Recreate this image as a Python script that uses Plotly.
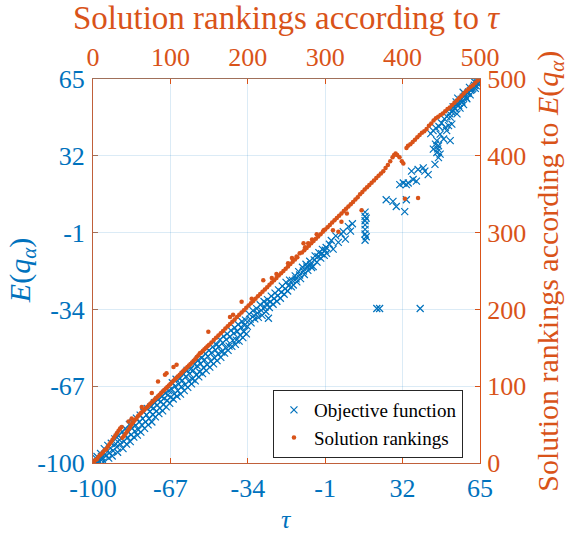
import plotly.graph_objects as go

BLUE = '#0072BD'
ORANGE = '#D95319'
FONT = 'Liberation Serif'

# objective function: tau vs E(q_alpha)
tau_vals = [
    -99.6, -99.0, -98.3, -97.5, -96.8, -96.0, -95.2, -94.5, -93.7, -93.0, -92.2, -91.4, -90.7, -89.9, -89.1,
    -88.4, -87.6, -86.8, -86.1, -85.3, -84.5, -83.8, -83.0, -82.2, -81.5, -80.7, -79.9, -79.2, -78.4, -77.6,
    -76.9, -76.1, -75.3, -74.6, -73.8, -73.0, -72.3, -71.5, -70.7, -70.0, -69.2, -68.4, -67.7, -66.9,
    -98.9, -97.9, -96.4, -95.6, -94.8, -93.3, -92.6, -91.8, -90.3, -89.5, -88.7, -87.2, -86.4, -85.7, -84.9,
    -84.1, -83.4, -82.6, -81.8, -81.1, -80.3, -79.6, -78.8, -78.0, -77.2, -76.5, -75.7, -74.9, -74.2, -73.4,
    -72.6, -71.9, -71.1, -70.3, -69.6, -68.8, -68.0, -67.3,
    -66.2, -65.4, -64.6, -63.8, -63.1, -62.3, -61.5, -60.7, -59.9, -59.2, -58.4, -57.6, -56.8, -56.0, -55.2,
    -54.5, -53.7, -52.9, -52.1, -51.3, -50.6, -49.8, -49.0, -48.2, -47.4, -46.7, -45.9, -45.1, -44.3, -43.5,
    -42.8, -42.0, -41.2, -40.4, -39.6, -38.9, -38.1, -37.3, -36.5, -35.7, -35.0, -34.2,
    -66.6, -65.8, -65.0, -64.2, -63.5, -62.7, -61.9, -61.1, -60.3, -59.6, -58.8, -58.0, -57.2, -56.4, -55.6,
    -54.9, -54.1, -53.3, -52.5, -51.7, -51.0, -50.2, -49.4, -48.6, -47.8, -47.1, -46.3, -45.5, -44.7, -43.9,
    -43.2, -42.4, -41.6, -40.8, -40.0, -39.3, -38.5, -37.7, -36.9, -36.1, -35.4, -34.6,
    -33.4, -32.6, -31.8, -31.0, -30.2, -29.5, -28.7, -27.9, -27.1, -26.3, -25.6, -25.2, -24.8, -24.0, -23.2,
    -22.4, -21.6, -20.9, -20.1, -19.3, -18.5, -17.7, -17.0, -16.2, -15.4, -14.6, -13.8, -13.1, -12.3, -11.5,
    -10.7, -9.9, -9.2, -8.4, -7.6, -6.8, -6.1, -5.3, -4.5, -3.7, -2.9, -2.2, -1.4, -0.6, -0.4,
    -33.0, -31.4, -29.9, -28.3, -26.7, -25.9, -24.4, -22.8, -21.2, -19.7, -18.1, -16.6, -15.0, -13.4, -11.9,
    -10.3, -8.8, -7.2, -5.7, -4.1, -2.5, -1.0,
    0.8, 1.6, 2.4, 3.5, 4.6, 5.8, 6.7, 7.6, 8.9, 9.8, 10.6, 16.0, 16.0, 16.0, 16.0, 16.0, 16.0, 16.0, 16.5,
    16.5, 21.0, 22.2, 39.5, 25.0, 27.9, 29.3, 32.9, 33.6, 30.8, 32.3, 33.6, 34.4, 36.5, 37.9, 35.8, 38.6,
    40.8, 42.9, 41.5,
    45.1, 45.8, 46.6, 47.3, 48.0, 47.3, 46.6, 46.0, 47.0, 49.5, 52.3, 48.0, 50.2, 53.0, 50.8, 51.6, 52.3,
    53.0, 54.4, 55.2, 55.9, 56.5, 57.3, 58.0, 58.7, 59.4, 60.1, 60.8, 61.5, 62.3, 63.0, 63.7, 64.4, 65.0,
    55.5, 57.8, 60.5, 62.8, 53.5, 54.8,
    44.0, 45.0, 46.2, 47.5, 48.6, 49.8, 50.9, 52.0, 53.2, 54.0, 55.0, 56.1, 57.0, 57.9, 59.0, 59.8, 61.0,
    61.9, 62.6, 63.4, 64.1, 64.7,
]
e_vals = [
    -99.0, -100.0, -97.2, -99.1, -95.9, -98.4, -93.8, -97.0, -92.4, -95.6, -91.5, -94.8, -89.6, -93.1, -88.3,
    -91.9, -86.5, -90.7, -85.3, -89.0, -83.4, -87.9, -82.6, -86.4, -80.7, -85.8, -79.4, -83.6, -78.1, -82.3,
    -76.6, -81.0, -75.9, -79.2, -74.1, -77.8, -72.9, -76.4, -71.6, -74.9, -70.0, -73.1, -68.9, -71.8,
    -97.8, -100.0, -97.3, -99.6, -96.2, -97.9, -93.6, -97.0, -91.8, -95.4, -90.1, -93.8, -88.2, -91.9, -86.6,
    -90.8, -85.0, -88.9, -83.8, -88.0, -82.4, -86.7, -80.9, -85.1, -79.3, -83.6, -77.8, -82.4, -76.4, -80.2,
    -75.1, -78.8, -73.5, -77.6, -72.2, -75.9, -70.7, -74.4,
    -65.5, -70.3, -64.0, -68.9, -63.8, -67.2, -61.9, -66.4, -60.2, -64.8, -59.7, -63.9, -57.6, -62.1, -55.8,
    -60.9, -54.9, -59.0, -53.0, -57.8, -51.7, -56.2, -50.1, -54.9, -49.2, -53.1, -47.0, -52.3, -45.6, -50.4,
    -44.5, -49.8, -43.0, -47.3, -41.9, -47.2, -40.5, -45.0, -39.2, -43.6, -38.6, -41.3,
    -68.2, -72.5, -67.1, -71.3, -66.2, -70.4, -64.5, -68.9, -62.8, -67.5, -61.6, -66.0, -60.2, -64.7, -58.3,
    -63.0, -57.4, -61.6, -55.6, -60.3, -54.2, -58.8, -52.6, -57.4, -51.5, -56.0, -49.9, -54.6, -48.4, -52.8,
    -47.0, -51.6, -45.7, -49.9, -44.3, -49.0, -43.5, -47.6, -41.6, -46.1, -40.8, -44.5,
    -36.0, -39.8, -34.5, -38.1, -33.7, -37.4, -32.0, -36.6, -30.6, -34.9, -29.8, -37.8, -33.2, -28.3, -31.8,
    -27.0, -30.5, -25.6, -29.2, -24.0, -27.5, -22.4, -26.1, -21.4, -24.3, -23.5, -19.6, -22.2, -17.8, -20.8,
    -15.9, -19.0, -14.6, -17.2, -13.3, -16.0, -15.6, -11.0, -13.7, -9.6, -12.0, -8.2, -10.8, -7.4, -9.9,
    -38.2, -36.7, -35.6, -34.4, -33.1, -31.5, -30.7, -29.4, -28.1, -26.6, -25.2, -23.9, -21.5, -20.9, -19.2,
    -17.5, -15.8, -14.9, -12.7, -11.3, -10.1, -8.6,
    -6.0, -4.4, -8.1, -2.4, -5.2, -1.6, -0.6, -3.8, 1.6, -0.4, 2.8, 7.8, 6.0, 4.1, 2.3, 0.4, -1.6, -4.3, 5.2,
    -2.8, -33.6, -33.6, -33.6, 13.1, 12.4, 10.2, 8.0, 13.1, 19.6, 20.3, 19.6, 20.3, 21.8, 21.1, 25.4, 26.1,
    26.8, 23.9, 25.4,
    34.9, 28.3, 33.4, 31.2, 32.7, 36.3, 38.5, 37.0, 35.0, 39.2, 38.5, 41.3, 44.2, 45.6, 42.8, 45.0, 48.6,
    50.8, 52.2, 50.0, 53.7, 52.5, 55.1, 54.0, 58.0, 56.5, 59.4, 58.2, 60.5, 61.6, 61.0, 63.2, 63.8, 65.0,
    56.8, 59.3, 61.4, 63.6, 53.0, 55.2,
    41.5, 42.8, 43.9, 44.6, 46.1, 47.9, 48.8, 50.1, 51.4, 52.9, 54.1, 54.6, 56.3, 57.2, 57.1, 58.8, 60.1,
    61.0, 62.3, 62.1, 63.4, 64.5,
]

# solution rankings: rank by tau vs rank by E(q_alpha)
rank_tau = [
    1, 3, 5, 7, 9, 11, 13, 15, 17, 19, 21, 23, 25, 27, 29, 31, 33, 35, 37, 38, 40, 42, 44, 46, 46, 48, 50, 50,
    52, 54, 56, 58, 60, 62, 63, 64, 66, 68, 70, 72, 74, 76, 76, 78, 80, 82, 84, 84, 86, 88, 90, 92, 93, 94, 95,
    96, 98, 100, 102, 104, 104, 106, 108, 108, 110, 112, 114, 116, 118, 120, 122, 124, 126, 128, 130, 132, 134,
    136, 138, 140, 142, 144, 146, 148, 149,
    150, 153, 156, 159, 162, 165, 168, 171, 174, 177, 177, 180, 181, 183, 186, 189, 192, 192, 195, 198, 201,
    204, 205, 207, 210, 213, 216, 219, 220, 222, 225, 228, 231, 231, 234, 237, 237, 240, 243, 246, 249, 252,
    252, 255, 257, 258, 261, 263, 264, 267, 270, 272, 273, 274, 276, 278, 279, 282, 283, 285, 288, 289, 291,
    294, 297, 298, 300, 303, 306, 309, 310, 312, 315, 317, 318, 321, 321, 324, 327, 328, 330, 333, 336, 339,
    342, 345, 347, 348, 351, 354, 357, 360, 363, 366, 369, 372, 375, 378, 381, 384, 387, 389, 391, 393, 396,
    399, 401, 403, 405, 407, 410, 413, 416, 419, 420, 422, 425, 428, 431, 434, 437, 440, 443, 446, 449, 452,
    455, 458, 461, 464, 467, 470, 473, 476, 479, 482, 485, 488, 491, 494, 497, 500,
]
rank_e = [
    1, 4, 5, 8, 10, 12, 14, 17, 18, 21, 24, 27, 30, 33, 36, 39, 42, 45, 47, 33, 35, 38, 41, 44, 54, 47, 50, 58,
    53, 56, 58, 61, 63, 65, 73, 67, 69, 71, 73, 75, 77, 79, 91, 81, 83, 85, 87, 106, 89, 91, 93, 95, 115, 97, 117,
    99, 101, 103, 105, 107, 125, 109, 111, 128, 113, 115, 117, 119, 121, 123, 125, 127, 129, 131, 133, 135, 138,
    140, 143, 144, 146, 148, 150, 152, 171,
    154, 157, 160, 163, 166, 169, 172, 175, 178, 181, 190, 184, 193, 187, 190, 193, 196, 210, 199, 202, 205,
    208, 214, 211, 214, 217, 220, 223, 238, 226, 229, 232, 235, 241, 238, 241, 246, 244, 247, 250, 253, 260,
    256, 259, 267, 262, 265, 269, 268, 273, 274, 286, 277, 281, 280, 286, 283, 286, 291, 289, 292, 298, 295,
    298, 301, 303, 304, 307, 310, 313, 303, 316, 319, 301, 322, 314, 325, 328, 331, 325, 334, 337, 340, 343,
    346, 350, 329, 353, 356, 359, 362, 365, 368, 371, 374, 377, 380, 384, 388, 393, 398, 401, 403, 401, 398,
    393, 390, 344, 410, 413, 415, 418, 421, 424, 345, 427, 430, 432, 435, 439, 442, 446, 449, 451, 453, 455,
    458, 461, 463, 466, 469, 472, 475, 478, 481, 484, 487, 490, 492, 495, 498, 500,
]

tau_ticks = [-100, -67, -34, -1, 32, 65]
tau_labels = ['-100', '-67', '-34', '-1', '32', '65']
rank_ticks = [0, 100, 200, 300, 400, 500]

fig = go.Figure()
fig.add_trace(go.Scatter(
    x=tau_vals, y=e_vals, mode='markers', name='Objective function',
    marker=dict(symbol='x-thin', size=7, color=BLUE, line=dict(color=BLUE, width=1.2)),
))
fig.add_trace(go.Scatter(
    x=rank_tau, y=rank_e, mode='markers', name='Solution rankings',
    xaxis='x2', yaxis='y2',
    marker=dict(symbol='circle', size=4.5, color=ORANGE),
))

grid = 'rgba(0,114,189,0.14)'
fig.update_layout(
    width=568, height=535,
    margin=dict(l=93, r=88, t=79, b=72),
    paper_bgcolor='white', plot_bgcolor='white',
    font=dict(family=FONT, size=26),
    showlegend=True,
    legend=dict(
        x=0.465, y=0.19, xanchor='left', yanchor='top',
        bgcolor='white', bordercolor='#262626', borderwidth=1,
        font=dict(family=FONT, size=19, color='black'),
        tracegroupgap=0,
    ),
    xaxis=dict(
        range=[-100, 65], tickvals=tau_ticks, ticktext=tau_labels, ticks='inside', ticklen=5,
        tickcolor=ORANGE, showgrid=True, gridcolor=grid, zeroline=False,
        showline=True, linecolor='#C0603A', linewidth=1,
        tickfont=dict(color=BLUE, size=26), ticklabelstandoff=2,
    ),
    yaxis=dict(
        range=[-100, 65], tickvals=tau_ticks, ticktext=tau_labels, ticks='inside', ticklen=5,
        tickcolor='#A0705A', showgrid=True, gridcolor=grid, zeroline=False,
        showline=True, linecolor='#C0603A', linewidth=1,
        tickfont=dict(color=BLUE, size=26), ticklabelstandoff=2,
    ),
    xaxis2=dict(
        range=[0, 500], tickvals=rank_ticks, overlaying='x', side='top', anchor='y',
        ticks='inside', ticklen=5, tickcolor=ORANGE, showgrid=False, zeroline=False,
        showline=True, linecolor='#A0705A', linewidth=1,
        tickfont=dict(color=ORANGE, size=26), ticklabelstandoff=2,
    ),
    yaxis2=dict(
        range=[0, 500], tickvals=rank_ticks, overlaying='y', side='right', anchor='x',
        ticks='inside', ticklen=5, tickcolor=ORANGE, showgrid=False, zeroline=False,
        showline=True, linecolor=ORANGE, linewidth=1,
        tickfont=dict(color=ORANGE, size=26), ticklabelstandoff=1,
    ),
)

# axis titles
fig.add_annotation(text='Solution rankings according to <i>τ</i>', xref='paper', yref='paper',
                   x=0.5, y=1.159, xanchor='center', yanchor='middle', showarrow=False,
                   font=dict(color=ORANGE, size=33))
fig.add_annotation(text='<i>τ</i>', xref='paper', yref='paper',
                   x=0.5, y=-0.148, xanchor='center', yanchor='middle', showarrow=False,
                   font=dict(color=BLUE, size=26))
fig.add_annotation(text='<i>E</i>(<i>q</i><sub><i>α</i></sub>)', xref='paper', yref='paper',
                   x=-0.183, y=0.5, xanchor='center', yanchor='middle', textangle=-90,
                   showarrow=False, font=dict(color=BLUE, size=30))
fig.add_annotation(text='Solution rankings according to <i>E</i>(<i>q</i><sub><i>α</i></sub>)',
                   xref='paper', yref='paper', x=1.18, y=0.5, xanchor='center', yanchor='middle',
                   textangle=-90, showarrow=False, font=dict(color=ORANGE, size=30))

fig.write_html("out.html", config={'displayModeBar': False},
               post_script="document.body.style.margin = '0';")
